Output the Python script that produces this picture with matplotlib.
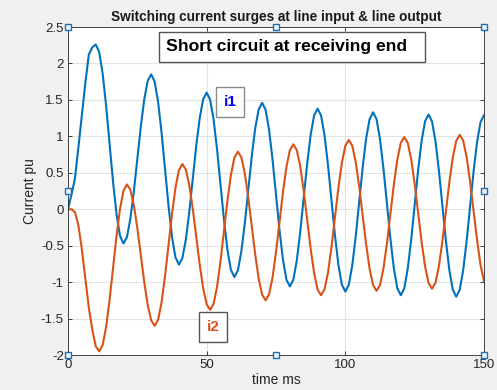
import numpy as np
import matplotlib.pyplot as plt
from matplotlib.patches import Rectangle

plt.rcParams['font.family'] = ['Liberation Sans', 'DejaVu Sans']

# sample times (ms), 1.25 ms step
t_ms = np.linspace(0, 150, 121)

# line input current i1 (pu)
i1 = [0, 0.20, 0.42, 0.85, 1.29, 1.73, 2.12, 2.22, 2.26,
      2.156, 1.860, 1.417, 0.895, 0.373, -0.070, -0.366, -0.47,
      -0.382, -0.130, 0.246, 0.69, 1.134, 1.510, 1.762, 1.85,
      1.751, 1.468, 1.044, 0.545, 0.046, -0.378, -0.661, -0.76,
      -0.670, -0.414, -0.032, 0.42, 0.872, 1.254, 1.510, 1.60,
      1.504, 1.230, 0.819, 0.335, -0.149, -0.560, -0.834, -0.93,
      -0.839, -0.580, -0.192, 0.265, 0.722, 1.110, 1.369, 1.46,
      1.364, 1.091, 0.682, 0.20, -0.282, -0.691, -0.964, -1.06,
      -0.967, -0.703, -0.307, 0.16, 0.627, 1.023, 1.287, 1.38,
      1.285, 1.012, 0.605, 0.125, -0.355, -0.762, -1.035, -1.13,
      -1.036, -0.770, -0.371, 0.10, 0.571, 0.970, 1.236, 1.33,
      1.235, 0.962, 0.555, 0.075, -0.405, -0.812, -1.085, -1.18,
      -1.086, -0.817, -0.415, 0.06, 0.535, 0.937, 1.206, 1.30,
      1.205, 0.934, 0.528, 0.05, -0.428, -0.834, -1.105, -1.20,
      -1.105, -0.835, -0.431, 0.045, 0.521, 0.925, 1.195, 1.29]

# line output current i2 (pu)
i2 = [0, 0, -0.04, -0.22, -0.55, -0.95, -1.35, -1.65, -1.88, -1.95,
      -1.863, -1.615, -1.243, -0.805, -0.367, 0.005, 0.253, 0.34,
      0.266, 0.056, -0.259, -0.63, -1.001, -1.316, -1.526, -1.60,
      -1.516, -1.275, -0.915, -0.49, -0.065, 0.295, 0.536, 0.62,
      0.544, 0.327, 0.003, -0.38, -0.763, -1.087, -1.304, -1.38,
      -1.297, -1.062, -0.710, -0.295, 0.120, 0.472, 0.707, 0.79,
      0.712, 0.491, 0.160, -0.23, -0.620, -0.951, -1.172, -1.25,
      -1.169, -0.937, -0.590, -0.18, 0.230, 0.577, 0.809, 0.89,
      0.811, 0.587, 0.251, -0.145, -0.541, -0.877, -1.101, -1.18,
      -1.099, -0.868, -0.523, -0.115, 0.293, 0.638, 0.869, 0.95,
      0.871, 0.647, 0.311, -0.085, -0.481, -0.817, -1.041, -1.12,
      -1.040, -0.811, -0.469, -0.065, 0.339, 0.681, 0.910, 0.99,
      0.911, 0.685, 0.348, -0.05, -0.448, -0.785, -1.011, -1.09,
      -1.010, -0.781, -0.439, -0.035, 0.369, 0.711, 0.940, 1.02,
      0.941, 0.714, 0.375, -0.025, -0.425, -0.764, -0.991]

x_ticks = [0, 50, 100, 150]
y_ticks = [-2, -1.5, -1, -0.5, 0, 0.5, 1, 1.5, 2, 2.5]

fig = plt.figure(figsize=(4.97, 3.90), dpi=100, facecolor='#f0f0f0')
ax = fig.add_axes([68/497, 35/390, 416/497, 328/390])

ax.plot(t_ms, i1, color='#0072BD', lw=1.5)
ax.plot(t_ms, i2, color='#D95319', lw=1.5)

ax.set_xlim(0, 150)
ax.set_ylim(-2, 2.5)
ax.set_xticks(x_ticks)
ax.set_yticks(y_ticks)
ax.set_yticklabels([f'{v:g}' for v in y_ticks])
ax.grid(True, color='#e3e3e3', lw=0.8)
ax.set_axisbelow(True)
ax.tick_params(direction='in', length=3, width=0.6, colors='#262626',
               labelsize=9.5, top=True, right=True, pad=3)
for s in ax.spines.values():
    s.set_color('#262626')
    s.set_linewidth(0.6)

ax.set_title('Switching current surges at line input & line output',
             fontsize=9.8, fontweight='bold', color='#1a1a1a', pad=4)
ax.set_xlabel('time ms', fontsize=10, color='#262626', labelpad=1)
ax.set_ylabel('Current pu', fontsize=10, color='#262626', labelpad=3)

# selection handles at axes corners and edge midpoints
x0, x1 = ax.get_xlim()
y0, y1 = ax.get_ylim()
xmid = (x0 + x1) / 2
ymid = (y0 + y1) / 2
hx = [x0, xmid, x1, x0, x1, x0, xmid, x1]
hy = [y1, y1, y1, ymid, ymid, y0, y0, y0]
ax.plot(hx, hy, 's', ms=4.5, mfc='#eef4fa', mec='#1f6fb5', mew=1.0,
        clip_on=False, zorder=10)

# annotation boxes (figure pixel coords)
def box(x, y, w, h, ec):
    fig.patches.append(Rectangle((x/497, 1 - (y + h)/390), w/497, h/390,
                                 transform=fig.transFigure, fill=True,
                                 fc='white', ec=ec, lw=1.0, zorder=5))

box(159, 32, 266, 30, '#555555')
fig.text(166/497, 1 - 47/390, 'Short circuit at receiving end', fontsize=12.6,
         fontweight='bold', va='center', ha='left', color='black', zorder=6)

box(216, 87, 28, 30, '#8a8a8a')
fig.text(230/497, 1 - 102/390, 'i1', fontsize=11, fontweight='bold',
         va='center', ha='center', color='#0000ff', zorder=6)

box(199, 312, 28, 30, '#555555')
fig.text(213/497, 1 - 327/390, 'i2', fontsize=11, fontweight='bold',
         va='center', ha='center', color='#D95319', zorder=6)

fig.savefig('out.png', dpi=100, facecolor=fig.get_facecolor())
